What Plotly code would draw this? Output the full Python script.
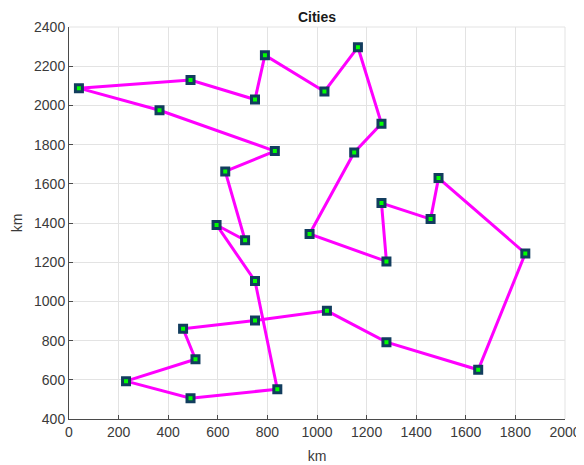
import plotly.graph_objects as go

# City tour coordinates (km), in visiting order; the tour closes back to the first city
city_x = [40, 490, 750, 790, 1030, 1165, 1260, 1150, 970, 1280, 1260, 1458, 1490, 1840,
          1650, 1280, 1040, 750, 460, 510, 230, 490, 840, 750, 595, 710, 630, 830, 365]
city_y = [2088, 2129, 2030, 2256, 2071, 2297, 1907, 1760, 1344, 1204, 1502, 1420, 1629, 1245,
          651, 792, 952, 902, 860, 705, 593, 506, 552, 1104, 1390, 1312, 1663, 1767, 1975]

x_ticks = [0, 200, 400, 600, 800, 1000, 1200, 1400, 1600, 1800, 2000]
y_ticks = [400, 600, 800, 1000, 1200, 1400, 1600, 1800, 2000, 2200, 2400]

tour_x = city_x + [city_x[0]]
tour_y = city_y + [city_y[0]]

fig = go.Figure()
fig.add_trace(go.Scatter(
    x=tour_x, y=tour_y, mode="lines",
    line=dict(color="#ff00ff", width=3),
    hoverinfo="skip", showlegend=False,
))
fig.add_trace(go.Scatter(
    x=city_x, y=city_y, mode="markers",
    marker=dict(symbol="square", size=7, color="#00ff00",
                line=dict(color="#123d5e", width=3)),
    showlegend=False,
))

axis_font = dict(family="Liberation Sans, Arial, sans-serif", size=14, color="#3a3a3a")

# the page body has an 8px margin, so the figure is placed at (8, 8)
W, H = 576, 457
fig.update_layout(
    width=W, height=H,
    margin=dict(l=61, r=19, t=19, b=46),
    paper_bgcolor="white", plot_bgcolor="white",
    title=dict(text="<b>Cities</b>", x=309 / W, xanchor="center",
               y=1 - 9 / H, yanchor="middle",
               font=dict(family="Liberation Sans, Arial, sans-serif", size=14, color="#1a1a1a")),
    xaxis=dict(
        range=[0, 2000], tickvals=x_ticks, ticktext=[str(v) for v in x_ticks],
        showgrid=True, gridcolor="#e3e3e3", gridwidth=1,
        showline=True, linecolor="#4a4a4a", linewidth=1,
        ticks="inside", ticklen=4, tickcolor="#4a4a4a",
        tickfont=axis_font, zeroline=False, automargin=False,
        title=dict(text="km", font=axis_font, standoff=12),
    ),
    yaxis=dict(
        range=[400, 2400], tickvals=y_ticks, ticktext=[str(v) for v in y_ticks],
        showgrid=True, gridcolor="#e3e3e3", gridwidth=1,
        showline=True, linecolor="#4a4a4a", linewidth=1,
        ticks="inside", ticklen=4, tickcolor="#4a4a4a",
        tickfont=axis_font, zeroline=False, automargin=False,
        title=dict(text="km", font=axis_font, standoff=8),
    ),
)

# light top and right borders of the plot box
fig.add_shape(type="line", xref="paper", yref="paper", x0=0, x1=1, y0=1, y1=1,
              line=dict(color="#e3e3e3", width=1), layer="below")
fig.add_shape(type="line", xref="paper", yref="paper", x0=1, x1=1, y0=0, y1=1,
              line=dict(color="#e3e3e3", width=1), layer="below")

fig.write_html("out.html")
